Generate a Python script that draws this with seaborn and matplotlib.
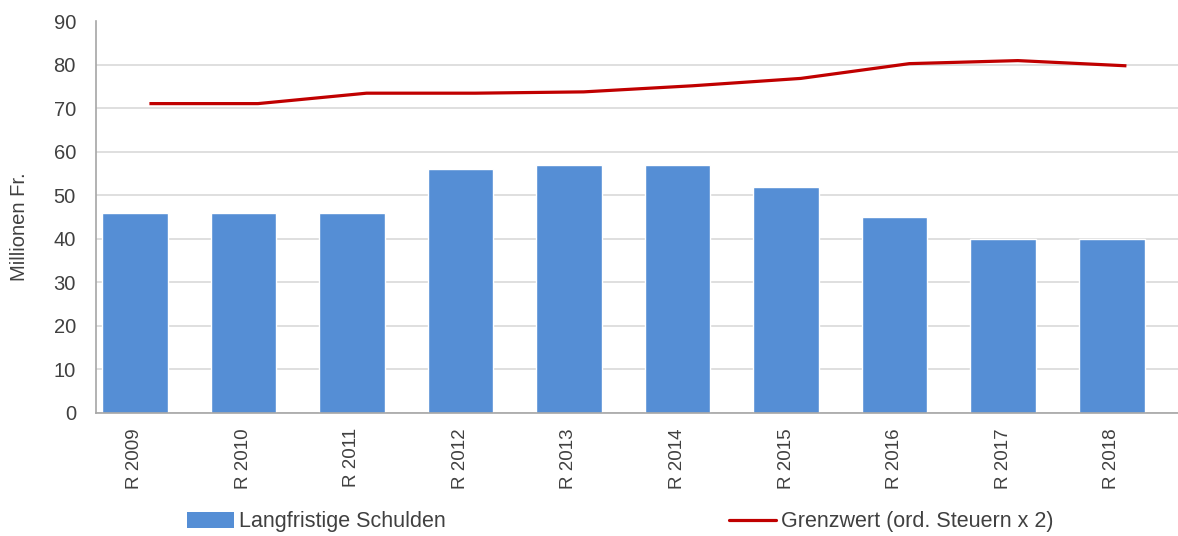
import numpy as np
import pandas as pd
import matplotlib
matplotlib.use("Agg")
import matplotlib.pyplot as plt
import seaborn as sns
from matplotlib.patches import Patch
from matplotlib.lines import Line2D

# Rechnungsjahre
jahre = ["R 2009", "R 2010", "R 2011", "R 2012", "R 2013",
         "R 2014", "R 2015", "R 2016", "R 2017", "R 2018"]
# Langfristige Schulden (Mio. Fr.)
schulden = [46, 46, 46, 56, 57, 57, 52, 45, 40, 40]
# Grenzwert: ordentliche Steuern x 2 (Mio. Fr.)
grenzwert = [71.1, 71.1, 73.5, 73.5, 73.8, 75.2, 76.9, 80.3, 81.0, 79.8]

BAR_COLOR = "#558ED5"
LINE_COLOR = "#C00000"
TEXT_COLOR = "#404040"

sns.set_theme(style="white")
plt.rcParams["font.family"] = ["Liberation Sans", "DejaVu Sans"]

W, H = 1178, 536
fig = plt.figure(figsize=(W / 100, H / 100), dpi=100)
ax = fig.add_axes([96 / W, 1 - 412.5 / H, 1 - 96 / W, (412.5 - 21.5) / H])

df = pd.DataFrame({"jahr": jahre, "schulden": schulden})
sns.barplot(data=df, x="jahr", y="schulden", color=BAR_COLOR, saturation=1,
            width=0.604, ax=ax, zorder=2)

# line series sits slightly right of the bar centres, as on a secondary category axis
xpos = np.arange(len(jahre)) + 0.135
sns.lineplot(x=xpos, y=grenzwert, color=LINE_COLOR, linewidth=2.3, ax=ax,
             zorder=3, solid_capstyle="butt")

ax.set_xlim(-0.357, 9.61)
ax.set_ylim(0, 90)
ax.set_yticks(range(0, 91, 10))
ax.set_xticks(range(len(jahre)))
ax.set_xticklabels(jahre, rotation=90)
ax.yaxis.grid(True, color="#D9D9D9", linewidth=1.2, zorder=0)
ax.set_axisbelow(True)
ax.tick_params(axis="both", length=0, colors=TEXT_COLOR)
ax.tick_params(axis="x", pad=11.2, labelsize=13.5)
ax.tick_params(axis="y", pad=14.4, labelsize=14.5)
ax.set_xlabel("")
ax.set_ylabel("Millionen Fr.", fontsize=14.5, color=TEXT_COLOR)
ax.yaxis.set_label_coords(-(96 - 19.5) / (W - 96) - 0.0, 0.476)
ax.yaxis.label.set_verticalalignment("center")

for s in ["top", "right"]:
    ax.spines[s].set_visible(False)
for s in ["left", "bottom"]:
    ax.spines[s].set_color("#A6A6A6")
    ax.spines[s].set_linewidth(1.2)

h_bar = Patch(facecolor=BAR_COLOR, edgecolor="none")
h_line = Line2D([0], [0], color=LINE_COLOR, linewidth=2.3)
common = dict(loc="center left", frameon=False, borderpad=0, borderaxespad=0,
              handlelength=2.2, handleheight=0.7, handletextpad=0.23,
              fontsize=15.5, labelcolor=TEXT_COLOR)
fig.legend([h_bar], ["Langfristige Schulden"],
           bbox_to_anchor=(187 / W, 1 - 522 / H), **common)
fig.legend([h_line], ["Grenzwert (ord. Steuern x 2)"],
           bbox_to_anchor=(729 / W, 1 - 522 / H), **common)

fig.savefig("out.png", dpi=100)
